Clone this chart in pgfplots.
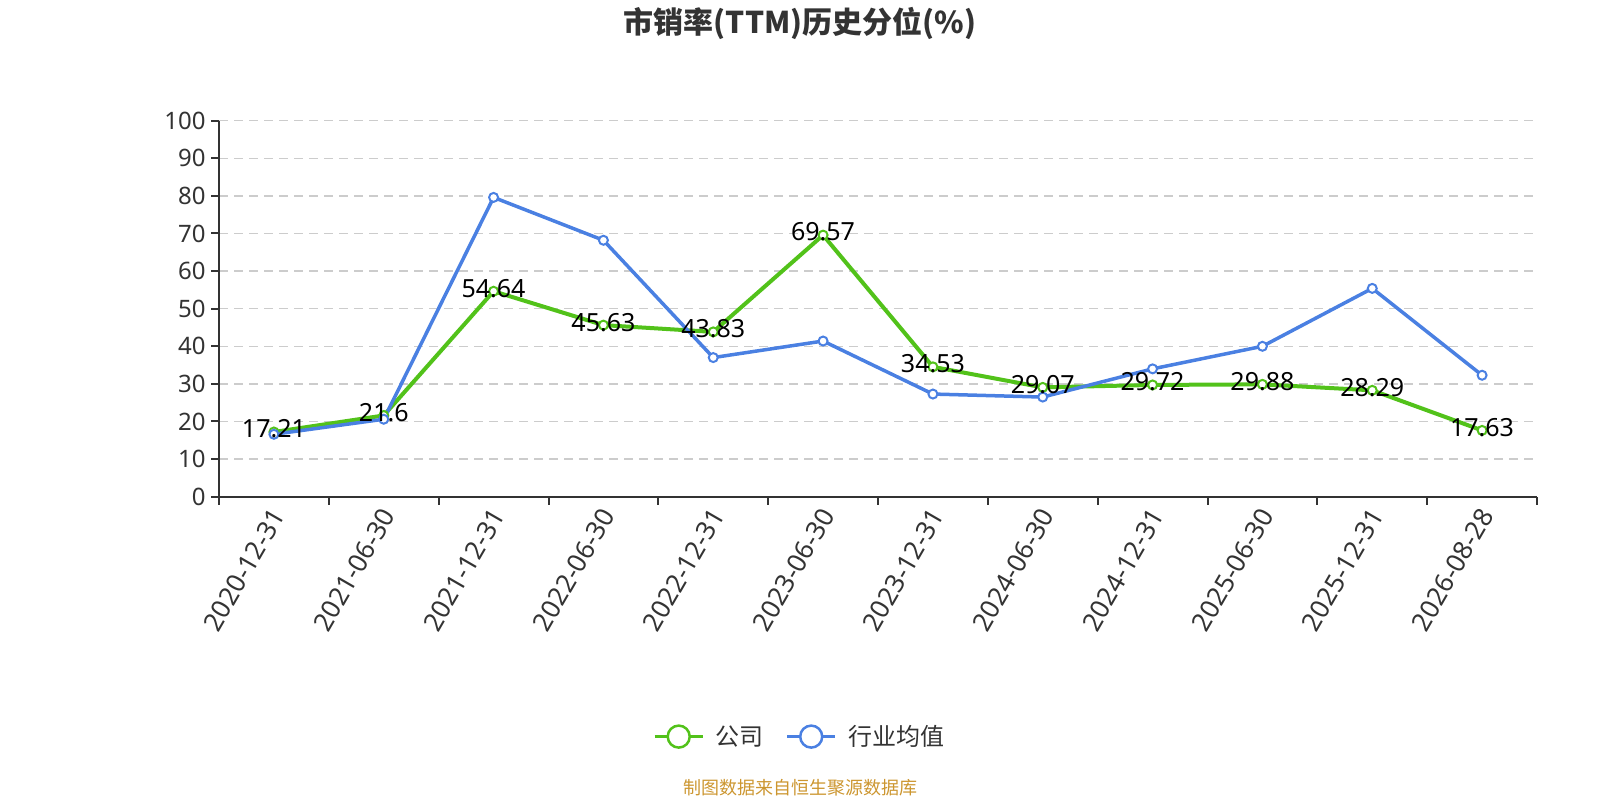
\documentclass[border=0pt]{standalone}
\usepackage{pgfplots}
\pgfplotsset{compat=1.18}
\usepackage{fontspec}
\setmainfont{Noto Sans}
\newfontfamily\cjk{Noto Sans CJK SC}
\definecolor{cgreen}{RGB}{82,194,26}
\definecolor{cblue}{RGB}{74,128,226}
\definecolor{txt}{RGB}{51,51,51}
\definecolor{gridc}{RGB}{204,204,204}
\definecolor{srcc}{RGB}{204,150,48}
\begin{document}
\begin{tikzpicture}
\path[use as bounding box] (0,0) rectangle (1600bp,800bp);
\node[text=txt, font=\cjk\bfseries\fontsize{30bp}{36bp}\selectfont] at (800bp,777bp) {市销率(TTM)历史分位(\%)};
\node[text=srcc, font=\cjk\fontsize{18bp}{22bp}\selectfont] at (800bp,12bp) {制图数据来自恒生聚源数据库};
\begin{axis}[
  at={(219bp,303.3bp)}, anchor=south west,
  scale only axis, width=1318bp, height=376bp,
  xmin=-0.5, xmax=11.5, ymin=0, ymax=100,
  axis x line*=bottom, axis y line*=left,
  axis line style={txt, line width=2bp},
  xtick={-0.5,0.5,...,11.5},
  x tick label as interval,
  xticklabels={2020-12-31,2021-06-30,2021-12-31,2022-06-30,2022-12-31,2023-06-30,2023-12-31,2024-06-30,2024-12-31,2025-06-30,2025-12-31,2026-08-28},
  xticklabel style={rotate=60, anchor=east, text=txt, font=\fontsize{26bp}{30bp}\selectfont, yshift=-7bp},
  ytick={0,10,...,100},
  yticklabel style={text=txt, font=\fontsize{24bp}{28bp}\selectfont, xshift=-2bp},
  /pgf/number format/assume math mode=true,
  tick align=outside, major tick length=8bp,
  tick style={txt, line width=2bp},
  ymajorgrids,
  major grid style={gridc, line width=1.5bp, dash pattern=on 9bp off 6bp},
  legend columns=2,
  legend style={at={(0.4408,-0.638)}, anchor=center, draw=none, fill=none,
    font=\cjk\fontsize{24bp}{28bp}\selectfont, text=txt,
    /tikz/every odd column/.append style={column sep=10bp},
    /tikz/every even column/.append style={column sep=20bp}},
  legend cell align=left,
]
\addplot[cgreen, line width=4bp, mark=*, mark size=4.5bp,
  mark options={fill=white, draw=cgreen, line width=2bp},
  legend image code/.code={
    \draw[cgreen, line width=2.5bp] (0bp,0bp) -- (48bp,0bp);
    \draw[cgreen, line width=2.5bp, fill=white] (24bp,0bp) circle (11bp);}]
  coordinates {(0,17.21) (1,21.6) (2,54.64) (3,45.63) (4,43.83) (5,69.57)
    (6,34.53) (7,29.07) (8,29.72) (9,29.88) (10,28.29) (11,17.63)};
\addlegendentry{公司}
\addplot[cblue, line width=3.5bp, mark=*, mark size=4.5bp,
  mark options={fill=white, draw=cblue, line width=2bp},
  legend image code/.code={
    \draw[cblue, line width=2.5bp] (0bp,0bp) -- (48bp,0bp);
    \draw[cblue, line width=2.5bp, fill=white] (24bp,0bp) circle (11bp);}]
  coordinates {(0,16.6) (1,20.6) (2,79.6) (3,68.2) (4,37.0) (5,41.4)
    (6,27.3) (7,26.5) (8,34.0) (9,40.0) (10,55.4) (11,32.3)};
\addlegendentry{行业均值}
\addplot[draw=none, forget plot, nodes near coords, point meta=explicit symbolic,
  nodes near coords style={anchor=center, text=black, yshift=3bp, inner sep=0pt,
    font=\fontsize{25bp}{30bp}\selectfont}]
  coordinates {(0,17.21) [17.21] (1,21.6) [21.6] (2,54.64) [54.64] (3,45.63) [45.63]
    (4,43.83) [43.83] (5,69.57) [69.57] (6,34.53) [34.53] (7,29.07) [29.07]
    (8,29.72) [29.72] (9,29.88) [29.88] (10,28.29) [28.29] (11,17.63) [17.63]};
\node[rotate=90, text=red, font=\fontsize{17bp}{20bp}\selectfont] at (rel axis cs:-0.0473,0.909) {(\%)};
\end{axis}
\end{tikzpicture}
\end{document}
